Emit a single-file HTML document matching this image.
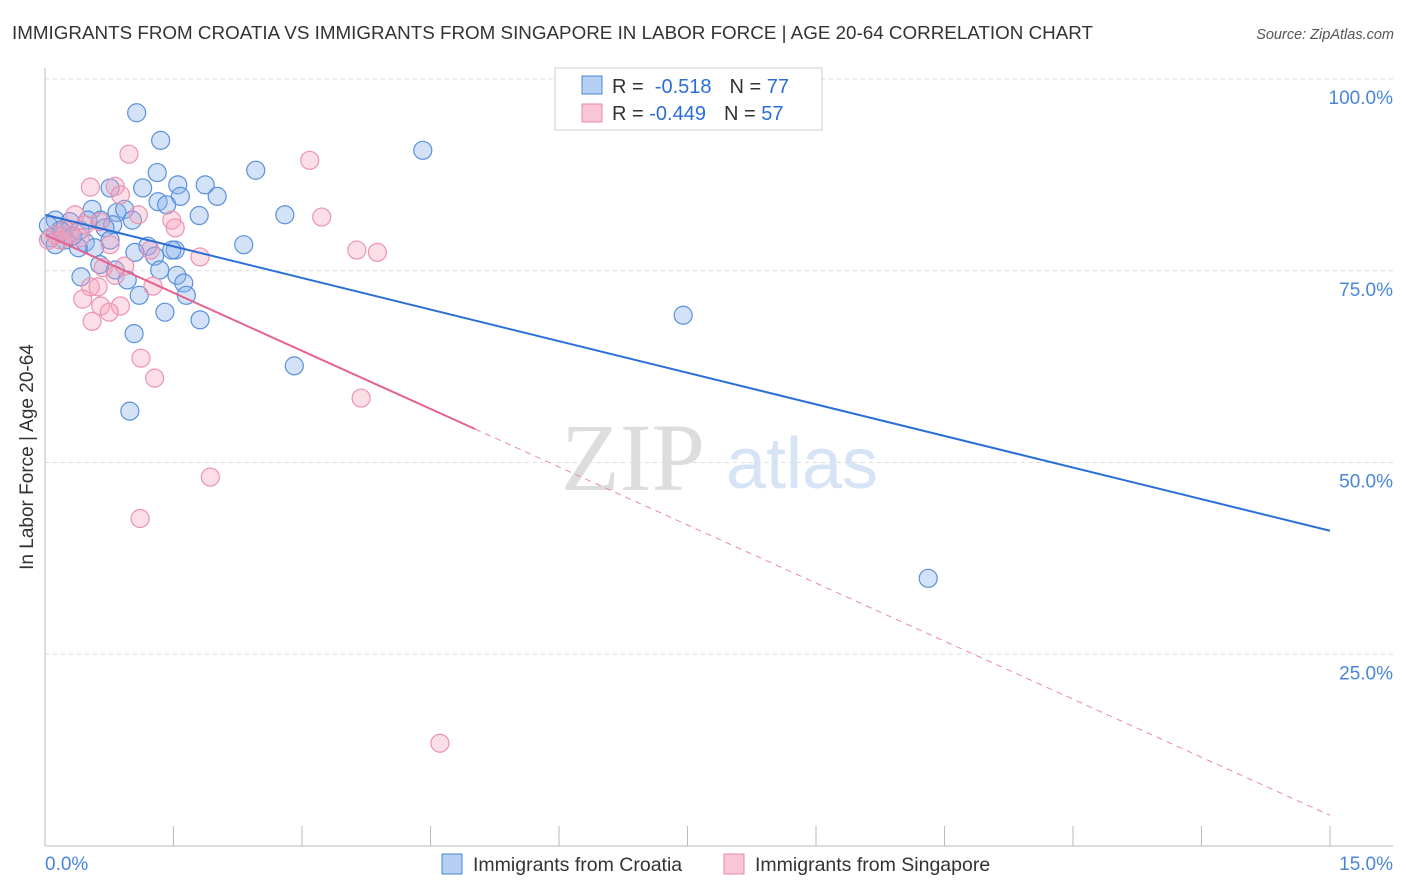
<!DOCTYPE html>
<html><head><meta charset="utf-8"><style>
body{margin:0;background:#fff;font-family:"Liberation Sans",sans-serif;}
svg{display:block}
</style></head><body>
<svg id="c" width="1406" height="892" xmlns="http://www.w3.org/2000/svg">
<text x="12" y="39" font-size="18" fill="#333" textLength="1081" lengthAdjust="spacingAndGlyphs">IMMIGRANTS FROM CROATIA VS IMMIGRANTS FROM SINGAPORE IN LABOR FORCE | AGE 20-64 CORRELATION CHART</text>
<text x="1394" y="39" font-size="14.5" fill="#555" font-style="italic" text-anchor="end">Source: ZipAtlas.com</text>
<text x="633" y="490" font-size="96" fill="#ddd" font-family="Liberation Serif,serif" text-anchor="middle">ZIP</text>
<text x="802" y="488" font-size="72" fill="#d6e4f5" text-anchor="middle">atlas</text>
<g id="grid"></g><g id="pts"></g><g id="trend"></g>
<line x1="45" y1="68" x2="45" y2="846" stroke="#bbb"/>
<line x1="45" y1="846" x2="1393" y2="846" stroke="#bbb"/>
<text x="33" y="457" font-size="19" fill="#333" text-anchor="middle" transform="rotate(-90 33 457)">In Labor Force | Age 20-64</text>
<text x="45" y="870" font-size="19" fill="#4a86d8">0.0%</text>
<text x="1393" y="870" font-size="19" fill="#4a86d8" text-anchor="end">15.0%</text>
<g>
<rect x="555" y="68" width="267" height="62" fill="#fff" stroke="#ccc"/>
<rect x="582" y="76" width="20" height="18" fill="#b5d0f3" stroke="#4a86d8"/>
<rect x="582" y="104" width="20" height="18" fill="#f9c6d5" stroke="#e88aa8"/>
<text x="612" y="93" font-size="20" fill="#333">R = <tspan fill="#2b6fd6">&#160;-0.518</tspan><tspan dx="18" fill="#333">N = </tspan><tspan fill="#2b6fd6">77</tspan></text>
<text x="612" y="120" font-size="20" fill="#333">R = <tspan fill="#2b6fd6">-0.449</tspan><tspan dx="18" fill="#333">N = </tspan><tspan fill="#2b6fd6">57</tspan></text>
</g>
<g>
<rect x="442" y="854" width="20" height="20" fill="#b5d0f3" stroke="#4a86d8"/>
<text x="473" y="871" font-size="19.5" fill="#333">Immigrants from Croatia</text>
<rect x="724" y="854" width="20" height="20" fill="#f9c6d5" stroke="#e88aa8"/>
<text x="755" y="871" font-size="19.5" fill="#333">Immigrants from Singapore</text>
</g>
</svg>
<script>
const yTicks=[25,50,75,100];
const xTickCount=10;
const blueX=[1.07,1.35,4.41,2.46,1.31,1.55,1.14,0.76,1.87,1.58,2.01,1.32,1.42,2.80,1.80,0.55,0.84,0.93,0.12,0.29,0.50,0.65,1.02,0.79,0.18,0.41,0.70,0.06,0.23,0.47,0.76,1.20,1.52,2.32,1.05,0.39,0.58,1.28,1.48,0.64,0.82,0.96,1.34,1.54,1.62,1.65,0.42,1.10,1.40,1.81,1.04,2.91,0.99,7.45,10.31,0.20,0.32,0.04,0.12];
const blueY=[95.6,92.0,90.7,88.1,87.8,86.2,85.8,85.8,86.2,84.7,84.7,84.0,83.6,82.3,82.2,83.0,82.6,83.0,81.6,81.4,81.6,81.6,81.6,81.0,80.3,80.3,80.6,79.3,79.0,78.7,79.0,78.2,77.7,78.4,77.4,78.0,78.0,76.9,77.7,75.8,75.1,73.8,75.1,74.4,73.4,71.8,74.2,71.8,69.6,68.6,66.8,62.6,56.7,69.2,34.9,80.1,79.5,80.9,78.4];
const pinkX=[0.98,3.09,0.53,0.82,0.88,1.09,1.48,3.23,1.52,0.35,0.47,0.64,0.23,0.12,0.76,1.23,1.81,3.64,3.88,0.93,0.68,0.82,0.53,0.62,1.26,0.44,0.65,0.88,0.75,0.55,1.12,1.28,3.69,1.93,1.11,4.61,0.18,0.29,0.04,0.41];
const pinkY=[90.2,89.4,85.9,86.0,84.9,82.3,81.6,82.0,80.6,82.3,81.0,81.4,80.3,79.7,78.4,77.7,76.8,77.7,77.4,75.6,75.4,74.4,72.9,72.9,73.0,71.3,70.4,70.4,69.6,68.4,63.6,61.0,58.4,48.1,42.7,13.4,79.0,79.7,79.0,79.3];
const blueTrend=[82.3,41.1];
const pinkTrend=[79.7,4.0];
const pinkSolidEnd=5.02;
const NS="http://www.w3.org/2000/svg";
const sx=v=>45+v/15*1285;
const sy=v=>846-v/100*767;
function mk(tag,attrs,parent){const e=document.createElementNS(NS,tag);for(const k in attrs)e.setAttribute(k,attrs[k]);parent.appendChild(e);return e;}
const grid=document.getElementById('grid');
yTicks.forEach(t=>{
 const l=mk('line',{x1:45,x2:1393,y1:sy(t),y2:sy(t),stroke:'#ddd','stroke-dasharray':'4 4'},grid);
 
 
 const tx=mk('text',{x:1393,y:sy(t)+25,'font-size':19,fill:'#4a86d8','text-anchor':'end'},grid);
 tx.textContent=t.toFixed(1)+'%';
 
 
});
for(let i=1;i<=xTickCount;i++){
 const x=sx(i*1.5);
 const l=mk('line',{x1:x,x2:x,y1:826,y2:846,stroke:'#bbb'},grid);
 
 
}
const pts=document.getElementById('pts');
blueX.forEach((x,i)=>{
 const c=mk('circle',{cx:sx(x),cy:sy(blueY[i]),r:9,fill:'rgba(140,180,235,0.38)',stroke:'#5a90dc','stroke-width':1.2},pts);
 
 
});
pinkX.forEach((x,i)=>{
 const c=mk('circle',{cx:sx(x),cy:sy(pinkY[i]),r:9,fill:'rgba(245,160,185,0.35)',stroke:'#eb94b0','stroke-width':1.2},pts);
 
 
});
const tr=document.getElementById('trend');
const bl=mk('line',{x1:sx(0),y1:sy(blueTrend[0]),x2:sx(15),y2:sy(blueTrend[1]),stroke:'#2b6fd6','stroke-width':2},tr);


const pAt=x=>pinkTrend[0]+(pinkTrend[1]-pinkTrend[0])*x/15;
const pl=mk('line',{x1:sx(0),y1:sy(pinkTrend[0]),x2:sx(pinkSolidEnd),y2:sy(pAt(pinkSolidEnd)),stroke:'#e5638e','stroke-width':2},tr);


const pd=mk('line',{x1:sx(pinkSolidEnd),y1:sy(pAt(pinkSolidEnd)),x2:sx(15),y2:sy(pinkTrend[1]),stroke:'#e88aa8','stroke-width':1,'stroke-dasharray':'6 5'},tr);


</script>
</body></html>
